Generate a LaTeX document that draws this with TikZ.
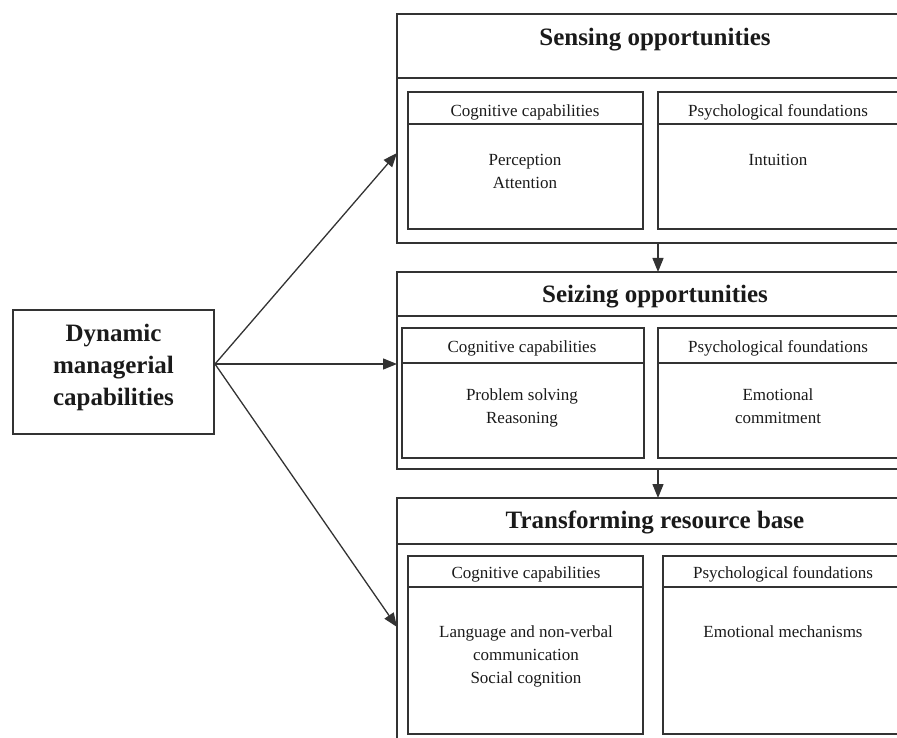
\documentclass[tikz,border=0pt]{standalone}
\usepackage{fontspec}
\setmainfont{Liberation Serif}
\usetikzlibrary{arrows.meta}
\definecolor{linec}{HTML}{333333}
\definecolor{textc}{HTML}{1A1A1A}
\tikzset{
  obox/.style={draw=linec, line width=1.5pt, anchor=north west, inner sep=0pt, outer sep=0pt},
  ibox/.style={draw=linec, line width=1.3pt, anchor=north west, inner sep=0pt, outer sep=0pt},
  titletext/.style={anchor=base, inner sep=0pt, text=textc, font=\fontsize{25}{30}\selectfont\bfseries},
  headtext/.style={anchor=base, inner sep=0pt, text=textc, font=\fontsize{17}{23}\selectfont},
  bodytext/.style={anchor=base, inner sep=0pt, text=textc, align=center, font=\fontsize{17}{23}\selectfont},
  dmcbox/.style={draw=linec, line width=1.5pt, anchor=north west, inner sep=0pt, outer sep=0pt, text=textc, align=center, font=\fontsize{25}{32}\selectfont\bfseries},
  conn/.style={draw=linec, line width=1.3pt, -{Triangle[length=14pt,width=11pt]}}
}
\begin{document}
\begin{tikzpicture}[x=1pt,y=-1pt]
\useasboundingbox (0,0) rectangle (897,738);
\clip (0,0) rectangle (897,738);

% ---------- Sensing ----------
\node[obox, minimum width=516pt, minimum height=229pt] (S) at (397,14) {};
\node[obox, minimum width=516pt, minimum height=64pt] (SH) at (397,14) {};
\node[titletext] (SHt) at (655,46) {Sensing opportunities};
\node[ibox, minimum width=235pt, minimum height=137pt] (SC) at (408,92) {};
\node[ibox, minimum width=235pt, minimum height=32pt] (SCH) at (408,92) {};
\node[headtext] (SCHt) at (525,116.5) {Cognitive capabilities};
\node[bodytext] (SCb) at (525,188.5) {Perception\\Attention};
\node[ibox, minimum width=240pt, minimum height=137pt] (SP) at (658,92) {};
\node[ibox, minimum width=240pt, minimum height=32pt] (SPH) at (658,92) {};
\node[headtext] (SPHt) at (778,116.5) {Psychological foundations};
\node[bodytext] (SPb) at (778,165.5) {Intuition};

% ---------- Seizing ----------
\node[obox, minimum width=516pt, minimum height=197pt] (Z) at (397,272) {};
\node[obox, minimum width=516pt, minimum height=44pt] (ZH) at (397,272) {};
\node[titletext] (ZHt) at (655,302) {Seizing opportunities};
\node[ibox, minimum width=242pt, minimum height=130pt] (ZC) at (402,328) {};
\node[ibox, minimum width=242pt, minimum height=35pt] (ZCH) at (402,328) {};
\node[headtext] (ZCHt) at (522,352) {Cognitive capabilities};
\node[bodytext] (ZCb) at (522,423) {Problem solving\\Reasoning};
\node[ibox, minimum width=245pt, minimum height=130pt] (ZP) at (658,328) {};
\node[ibox, minimum width=245pt, minimum height=35pt] (ZPH) at (658,328) {};
\node[headtext] (ZPHt) at (778,352) {Psychological foundations};
\node[bodytext] (ZPb) at (778,423) {Emotional\\commitment};

% ---------- Transforming ----------
\node[obox, minimum width=516pt, minimum height=252pt] (T) at (397,498) {};
\node[obox, minimum width=516pt, minimum height=46pt] (TH) at (397,498) {};
\node[titletext] (THt) at (655,528) {Transforming resource base};
\node[ibox, minimum width=235pt, minimum height=178pt] (TC) at (408,556) {};
\node[ibox, minimum width=235pt, minimum height=31pt] (TCH) at (408,556) {};
\node[headtext] (TCHt) at (526,578.5) {Cognitive capabilities};
\node[bodytext] (TCb) at (526,683.5) {Language and non-verbal\\communication\\Social cognition};
\node[ibox, minimum width=240pt, minimum height=178pt] (TP) at (663,556) {};
\node[ibox, minimum width=240pt, minimum height=31pt] (TPH) at (663,556) {};
\node[headtext] (TPHt) at (783,578.5) {Psychological foundations};
\node[bodytext] (TPb) at (783,637.5) {Emotional mechanisms};

% ---------- Left box ----------
\node[dmcbox, minimum width=201pt, minimum height=124pt] (D) at (13,310) {Dynamic\\managerial\\capabilities\\[-18pt]\mbox{}};

% ---------- Connectors ----------
\coordinate (apex) at (215,364);
\draw[conn] (apex) -- (S.west |- 0,153);
\draw[conn] (apex) -- (Z.west |- apex);
\draw[conn] (apex) -- (T.west |- 0,627);
\draw[conn] (S.south -| 658,0) -- (Z.north -| 658,0);
\draw[conn] (Z.south -| 658,0) -- (T.north -| 658,0);
\end{tikzpicture}
\end{document}
